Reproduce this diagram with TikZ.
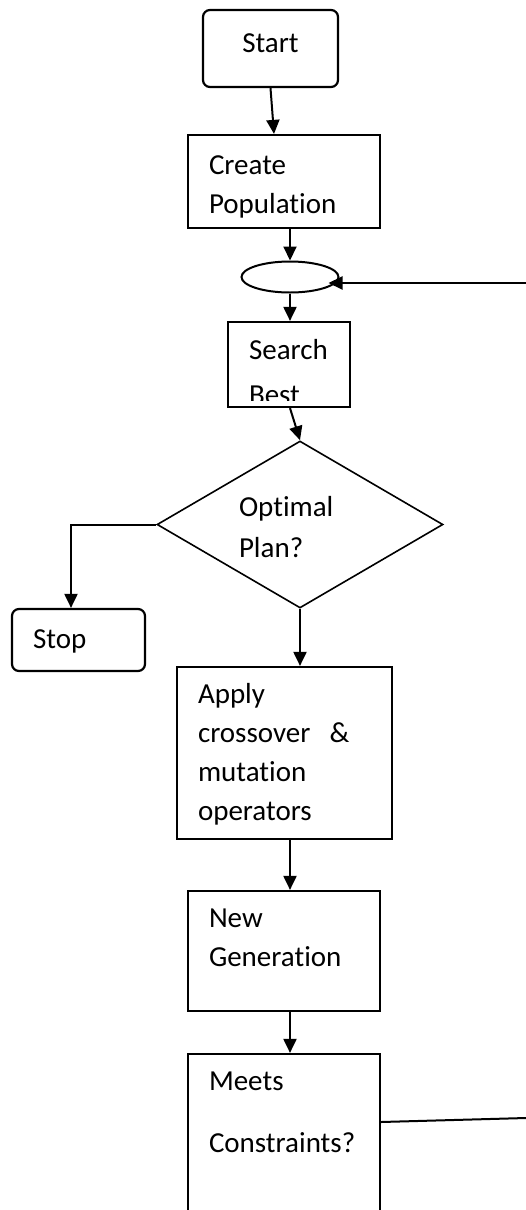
\documentclass[tikz,border=0pt]{standalone}
\usepackage{fontspec}
\setmainfont{Carlito}[Ligatures=NoCommon]
\usetikzlibrary{arrows.meta,shapes.geometric,calc}

\begin{document}
\begin{tikzpicture}[x=1pt,y=-1pt]

		\tikzset{line/.style={draw,line width=2pt}}
		\tikzset{arrow/.style={line,-{Triangle[length=14pt,width=13pt]}}}
		\tikzset{box/.style={draw,line width=2.2pt,inner xsep=21pt,inner ysep=0pt,align=left}}
		\tikzset{rbox/.style={box,rounded corners=7pt}}
		\tikzset{cond/.style={draw,shape=diamond,line width=1.6pt,inner sep=0pt,aspect=1.71,align=left}}

		\tikzset{font=\fontsize{29}{39}\selectfont}

		\useasboundingbox (0,0) rectangle (526,1210);


		\node[rbox,inner xsep=0pt,minimum width=135pt,text height=42pt,text depth=35pt] (start) at (270.5,48.5) {Start};
		\node[box,text width=150pt,text height=39pt,text depth=54pt] (create) at (284,181.5) {Create\\Population};
		\node[draw,ellipse,line width=2pt,inner sep=0pt,minimum width=97pt,minimum height=31pt] (loop) at (290,277) {};
		\node[box,text width=80pt,text height=37pt,text depth=48pt] (search) at (289,364.5) {Search\\[6pt]Best};
		\fill[white] ([xshift=2.2pt,yshift=2pt]search.south west) rectangle ([xshift=-2.2pt,yshift=7pt]search.south east);

		\node[cond,text width=122pt,text height=28pt,text depth=45pt,minimum width=286pt,minimum height=167pt] (optimal) at (300,524.5) {Optimal\\[2pt]Plan?};
		\node[rbox,text width=91pt,text height=39pt,text depth=23pt] (stop) at (78.5,640) {Stop};

		\node[box,text width=173pt,text height=36pt,text depth=136pt] (apply) at (284.5,753) {Apply\\crossover\ \ \&\\mutation\\operators};
		\node[box,text width=150pt,text height=36pt,text depth=84pt] (newgen) at (284,951) {New\\Generation};
		\node[box,text width=150pt,text height=36pt,text depth=150pt] (meets) at (284,1147) {Meets\\[23pt]Constraints?};

		% loop back, cut at the page edge
		\coordinate (ret) at (526,283);
		\coordinate (back) at (526,1118);


		\draw[arrow] (start.south) -- ([xshift=-10pt]create.north);
		\draw[arrow] (create.south -| loop) -- (loop.north);
		\draw[arrow] (loop.south) -- (search.north -| loop);
		\draw[arrow] ([xshift=1pt]search.south) -- (optimal.north);
		\draw[arrow] (optimal.west) -| ([xshift=-7.5pt]stop.north);
		\draw[arrow] (optimal.south) -- (optimal.south |- apply.north);
		\draw[arrow] (apply.south -| loop) -- (newgen.north -| loop);
		\draw[arrow] (newgen.south -| loop) -- (meets.north -| loop);

		\draw[line] ([yshift=25pt]meets.east) -- (back);
		\draw[arrow] (ret) -- ([xshift=-11pt]loop.east |- ret);

\end{tikzpicture}
\end{document}
